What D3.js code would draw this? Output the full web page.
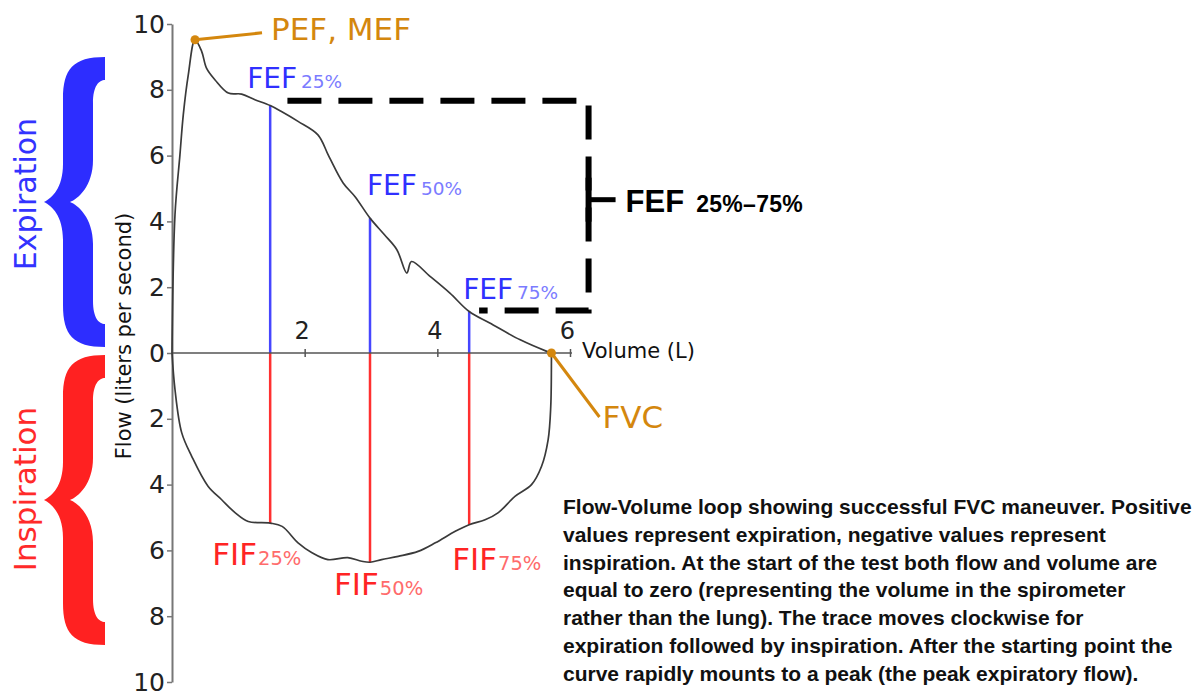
<!DOCTYPE html>
<html>
<head>
<meta charset="utf-8">
<script src="https://cdn.jsdelivr.net/npm/d3@7"></script>
<style>
  html, body { margin: 0; padding: 0; background: #fff; }
  svg { display: block; }
</style>
</head>
<body>
<div id="chart"></div>
<script>
// Flow-volume loop (spirometry) drawn with D3

// expiration limb, volume (L) / flow (L/s)
const expVolume = [0, 0.045, 0.12, 0.17, 0.246, 0.347, 0.447, 0.52, 0.65, 0.85, 1.05, 1.25, 1.48, 1.65, 1.9, 2.2, 2.36, 2.58, 2.76, 2.985, 3.2, 3.39, 3.54, 3.61, 3.89, 4.19, 4.48, 4.79, 5.25, 5.65, 5.72];
const expFlow   = [0, 4.2, 6.03, 7.24, 8.46, 9.52, 9.17, 8.66, 8.3, 7.9, 7.87, 7.7, 7.52, 7.34, 7.04, 6.63, 6.0, 5.17, 4.75, 4.1, 3.6, 3.14, 2.43, 2.78, 2.33, 1.82, 1.26, 0.91, 0.4, 0.05, 0];

// inspiration limb (negative flow)
const inspVolume = [0, 0.045, 0.146, 0.297, 0.543, 0.749, 0.95, 1.15, 1.48, 1.66, 1.9, 2.11, 2.35, 2.65, 2.86, 2.985, 3.16, 3.41, 3.71, 3.97, 4.27, 4.48, 4.72, 4.92, 5.17, 5.42, 5.57, 5.67, 5.71, 5.72, 5.72];
const inspFlow   = [0, -1.11, -2.42, -3.14, -4.05, -4.46, -4.85, -5.12, -5.17, -5.27, -5.77, -6.07, -6.28, -6.22, -6.33, -6.36, -6.28, -6.18, -6.03, -5.77, -5.42, -5.22, -5.07, -4.85, -4.36, -4.0, -3.45, -2.64, -1.62, -0.2, 0];

// marked points
const pctLabels = ['25%', '50%', '75%'];
const fefVolume = [1.48, 2.985, 4.48];
const fefFlow   = [7.52, 4.1, 1.26];
const fifFlow   = [-5.17, -6.36, -5.22];
const pefPoint  = [0.347, 9.52];
const fvcVolume = 5.72;

// FEF 25-75 bracket box (volume / flow)
const boxTopLeft = 1.74, boxRight = 6.28, boxBottomLeft = 4.63;
const boxTop = 7.67, boxBottom = 1.29, boxMid = 4.66;

const yTicks = [-10, -8, -6, -4, -2, 0, 2, 4, 6, 8, 10];
const xTicks = [2, 4, 6];

const caption = [
  'Flow-Volume loop showing successful FVC maneuver. Positive',
  'values represent expiration, negative values represent',
  'inspiration. At the start of the test both flow and volume are',
  'equal to zero (representing the volume in the spirometer',
  'rather than the lung). The trace moves clockwise for',
  'expiration followed by inspiration. After the starting point the',
  'curve rapidly mounts to a peak (the peak expiratory flow).'
];

const W = 1203, H = 693;
const FONT = '"DejaVu Sans", sans-serif';
const BLUE = '#3030ff', BLUE_SUB = '#7b7bff';
const RED = '#ff2424', RED_SUB = '#ff6b6b';
const ORANGE = '#d4870e';

const svg = d3.select('#chart').append('svg')
  .attr('width', W).attr('height', H)
  .style('background', '#fff');

const x = d3.scaleLinear().domain([0, 6]).range([172, 570]);
const y = d3.scaleLinear().domain([-10, 10]).range([682, 24]);

// braces
function bracePath(y0, y1) {
  const m = (y0 + y1) / 2, xr = 105, xo = 63, xi = 93, xt = 44, xn = 70, a = 23;
  return `M${xr},${y0}
    C${xo + 10},${y0} ${xo},${y0 + 12} ${xo},${y0 + 42}
    L${xo},${m - 38}
    C${xo},${m - 14} ${xt + 8},${m - 4} ${xt},${m}
    C${xt + 8},${m + 4} ${xo},${m + 14} ${xo},${m + 38}
    L${xo},${y1 - 42}
    C${xo},${y1 - 12} ${xo + 10},${y1} ${xr},${y1}
    L${xr},${y1 - a}
    C${xi + 6},${y1 - a} ${xi},${y1 - a - 6} ${xi},${y1 - 46}
    L${xi},${m + 42}
    C${xi},${m + 16} ${xn + 8},${m + 3} ${xn},${m}
    C${xn + 8},${m - 3} ${xi},${m - 16} ${xi},${m - 42}
    L${xi},${y0 + 46}
    C${xi},${y0 + a + 6} ${xi + 6},${y0 + a} ${xr},${y0 + a} Z`;
}
svg.append('path').attr('d', bracePath(57, 347)).attr('fill', '#2d2dff');
svg.append('path').attr('d', bracePath(355, 645)).attr('fill', '#ff2121');

svg.append('text')
  .attr('transform', 'translate(36,194) rotate(-90)')
  .attr('text-anchor', 'middle')
  .attr('font-family', FONT).attr('font-size', 30)
  .attr('fill', '#3333ff')
  .text('Expiration');
svg.append('text')
  .attr('transform', 'translate(36,489) rotate(-90)')
  .attr('text-anchor', 'middle')
  .attr('font-family', FONT).attr('font-size', 31)
  .attr('fill', '#ff2a2a')
  .text('Inspiration');

// y axis title
svg.append('text')
  .attr('transform', 'translate(131,336) rotate(-90)')
  .attr('text-anchor', 'middle')
  .attr('font-family', FONT).attr('font-size', 21)
  .attr('fill', '#111')
  .text('Flow (liters per second)');

// FEF / FIF verticals
svg.append('g').selectAll('line').data(fefVolume).join('line')
  .attr('x1', d => x(d)).attr('x2', d => x(d))
  .attr('y1', y(0)).attr('y2', (d, i) => y(fefFlow[i]))
  .attr('stroke', '#4646ff').attr('stroke-width', 2.5);
svg.append('g').selectAll('line').data(fefVolume).join('line')
  .attr('x1', d => x(d)).attr('x2', d => x(d))
  .attr('y1', y(0)).attr('y2', (d, i) => y(fifFlow[i]))
  .attr('stroke', '#ff3030').attr('stroke-width', 2.5);

// axes
const yAxis = svg.append('g')
  .attr('transform', `translate(${x(0)},0)`)
  .call(d3.axisLeft(y).tickValues(yTicks).tickSize(5).tickSizeOuter(0).tickPadding(2)
    .tickFormat(d => Math.abs(d)));
yAxis.select('.domain').attr('stroke', '#777').attr('stroke-width', 2);
yAxis.selectAll('.tick line').attr('stroke', '#777').attr('stroke-width', 1.5);
yAxis.selectAll('.tick text').attr('font-family', FONT).attr('font-size', 25).attr('fill', '#222');

const xAxis = svg.append('g')
  .attr('transform', `translate(0,${y(0)})`)
  .call(d3.axisTop(x).tickValues(xTicks).tickSize(4).tickSizeOuter(0).tickPadding(10)
    .tickFormat(d3.format('d')));
xAxis.select('.domain').attr('d', `M${x(0)},0H${x(6) + 2}`).attr('stroke', '#555').attr('stroke-width', 1.6);
xAxis.selectAll('.tick line').attr('y1', 4).attr('stroke', '#555').attr('stroke-width', 1.5);
xAxis.selectAll('.tick text').attr('font-family', FONT).attr('font-size', 24).attr('fill', '#222').attr('dx', -3);

svg.append('text')
  .attr('x', 582).attr('y', y(0) + 5)
  .attr('font-family', FONT).attr('font-size', 21).attr('fill', '#111')
  .text('Volume (L)');

// the loop
const line = d3.line().x(d => x(d[0])).y(d => y(d[1])).curve(d3.curveCatmullRom.alpha(0.5));
const expData = expVolume.map((v, i) => [v, expFlow[i]]);
const inspData = inspVolume.map((v, i) => [v, inspFlow[i]]);
svg.append('path').datum(expData).attr('d', line)
  .attr('fill', 'none').attr('stroke', '#3a3a3a').attr('stroke-width', 1.7);
svg.append('path').datum(inspData).attr('d', line)
  .attr('fill', 'none').attr('stroke', '#3a3a3a').attr('stroke-width', 1.7);

// FEF 25-75 dashed bracket
svg.append('path')
  .attr('d', `M${x(boxTopLeft)},${y(boxTop)}H${x(boxRight)}V${y(boxBottom)}H${x(boxBottomLeft)}`)
  .attr('fill', 'none').attr('stroke', '#000').attr('stroke-width', 6)
  .attr('stroke-dasharray', '34,17');
svg.append('line')
  .attr('x1', x(boxRight)).attr('x2', x(boxRight) + 27)
  .attr('y1', y(boxMid)).attr('y2', y(boxMid))
  .attr('stroke', '#000').attr('stroke-width', 5);
svg.append('line')
  .attr('x1', x(boxRight)).attr('x2', x(boxRight))
  .attr('y1', y(boxMid) - 22).attr('y2', y(boxMid) + 22)
  .attr('stroke', '#000').attr('stroke-width', 6);
const fefRange = svg.append('text')
  .attr('x', x(boxRight) + 37).attr('y', y(boxMid) + 12)
  .attr('font-family', '"Liberation Sans", Arial, sans-serif').attr('font-weight', 'bold')
  .attr('fill', '#000');
fefRange.append('tspan').attr('font-size', 31).text('FEF');
fefRange.append('tspan').attr('font-size', 23).attr('dx', 12).attr('letter-spacing', 0.3).text('25%\u201375%');

// PEF marker
svg.append('line')
  .attr('x1', x(pefPoint[0])).attr('y1', y(pefPoint[1]))
  .attr('x2', x(pefPoint[0]) + 67).attr('y2', y(pefPoint[1]) - 7)
  .attr('stroke', ORANGE).attr('stroke-width', 3);
svg.append('circle').attr('cx', x(pefPoint[0])).attr('cy', y(pefPoint[1])).attr('r', 4.5).attr('fill', ORANGE);
svg.append('text')
  .attr('x', x(pefPoint[0]) + 76).attr('y', y(pefPoint[1]) + 0.5)
  .attr('font-family', FONT).attr('font-size', 31).attr('fill', ORANGE)
  .text('PEF, MEF');

// FVC marker
svg.append('line')
  .attr('x1', x(fvcVolume)).attr('y1', y(0))
  .attr('x2', x(fvcVolume) + 48).attr('y2', y(0) + 64)
  .attr('stroke', ORANGE).attr('stroke-width', 3);
svg.append('circle').attr('cx', x(fvcVolume)).attr('cy', y(0)).attr('r', 4.5).attr('fill', ORANGE);
svg.append('text')
  .attr('x', x(fvcVolume) + 51).attr('y', y(0) + 75)
  .attr('font-family', FONT).attr('font-size', 31).attr('fill', ORANGE)
  .text('FVC');

// FEF labels (offsets from the top of each line)
const fefOffsets = [[-23, -18], [-3, -23], [-6, -13]];
fefVolume.forEach((v, i) => {
  const t = svg.append('text')
    .attr('x', x(v) + fefOffsets[i][0]).attr('y', y(fefFlow[i]) + fefOffsets[i][1])
    .attr('font-family', FONT);
  t.append('tspan').attr('font-size', 28).attr('fill', BLUE).text('FEF');
  t.append('tspan').attr('font-size', 18.5).attr('fill', BLUE_SUB).attr('dx', 4).text(pctLabels[i]);
});

// FIF labels
const fifOffsets = [[-58, 42], [-36, 33], [-17, 45]];
fefVolume.forEach((v, i) => {
  const t = svg.append('text')
    .attr('x', x(v) + fifOffsets[i][0]).attr('y', y(fifFlow[i]) + fifOffsets[i][1])
    .attr('font-family', FONT);
  t.append('tspan').attr('font-size', 31).attr('fill', RED).text('FIF');
  t.append('tspan').attr('font-size', 19.5).attr('fill', RED_SUB).attr('dx', 1).text(pctLabels[i]);
});

// caption
svg.append('g').selectAll('text').data(caption).join('text')
  .attr('x', 563).attr('y', (d, i) => 514 + i * 27.8)
  .attr('font-family', '"Liberation Sans", Arial, sans-serif')
  .attr('font-weight', 'bold').attr('font-size', 21)
  .attr('fill', '#111')
  .text(d => d);
</script>
</body>
</html>
